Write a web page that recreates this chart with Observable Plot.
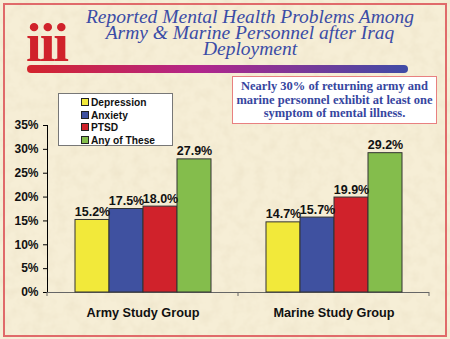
<!DOCTYPE html>
<html>
<head>
<meta charset="utf-8">
<script src="https://cdn.jsdelivr.net/npm/d3@7"></script>
<script src="https://cdn.jsdelivr.net/npm/@observablehq/plot@0.6"></script>
<style>
  html, body { margin: 0; padding: 0; }
  #page { position: relative; width: 450px; height: 339px; background-color: #f6eed6; overflow: hidden; font-family: "Liberation Sans", Arial, sans-serif; }
  #border { position: absolute; left: 3px; top: 3px; width: 440px; height: 330px; border: 2px solid #e06a6a; }
  #logo { position: absolute; left: 26px; top: 18px; font-family: "Liberation Serif", serif; font-weight: bold; font-size: 54px; color: #d0222b; letter-spacing: -2px; line-height: 50px; transform: scaleX(1.05); transform-origin: left top; }
  #title { position: absolute; left: 60px; top: 9px; width: 380px; text-align: center; font-family: "Liberation Serif", serif; font-style: italic; font-size: 19.5px; line-height: 16px; color: #3b4ca6; }
  #bar { position: absolute; left: 27px; top: 65px; width: 381px; height: 8px; border-radius: 4px; background: linear-gradient(to right, #d4242c, #b2268c 45%, #3f4ba6); }
  #callout { position: absolute; left: 232px; top: 76px; width: 203px; height: 43px; background: #fff; border: 1.5px solid #e88080; text-align: center; font-family: "Liberation Serif", serif; font-weight: bold; font-size: 12.5px; line-height: 13.5px; color: #3646a0; padding-top: 3px; box-sizing: content-box; }
  #legend { position: absolute; left: 58px; top: 93px; width: 113px; height: 51px; background: #fff; border: 1px solid #777; }
  .item { position: absolute; left: 22px; font-weight: bold; font-size: 10.2px; line-height: 12px; color: #111; white-space: nowrap; }
  .sw { display: inline-block; width: 6px; height: 6px; border: 1px solid #222; margin-right: 2px; vertical-align: 0px; }
  #chart { position: absolute; left: 0; top: 0; }
  #chart svg text { font-family: "Liberation Sans", Arial, sans-serif; font-weight: bold; fill: #111; }
</style>
</head>
<body>
<div id="page">
  <div id="border"></div>
  <div id="logo">iii</div>
  <div id="title"></div>
  <div id="bar"></div>
  <div id="chart"></div>
  <div id="callout"></div>
  <div id="legend"></div>
</div>
<script>
const titleLines = ["Reported Mental Health Problems Among", "Army & Marine Personnel after Iraq", "Deployment"];
const calloutLines = ["Nearly 30% of returning army and", "marine personnel exhibit at least one", "symptom of mental illness."];
const groups = ["Army Study Group", "Marine Study Group"];
const series = ["Depression", "Anxiety", "PTSD", "Any of These"];
const armyValues = [15.2, 17.5, 18.0, 27.9];
const marineValues = [14.7, 15.7, 19.9, 29.2];
const colors = ["#f2e93a", "#3f51a0", "#d0222b", "#84bd4c"];
const yTicks = [0, 5, 10, 15, 20, 25, 30, 35];

// parchment texture
const noise = `<svg xmlns='http://www.w3.org/2000/svg' width='450' height='339'><filter id='n'><feTurbulence type='fractalNoise' baseFrequency='0.09' numOctaves='3' seed='4'/><feColorMatrix values='0 0 0 0 0.82  0 0 0 0 0.74  0 0 0 0 0.55  0 0 0 0.9 -0.35'/></filter><rect width='100%' height='100%' filter='url(%23n)'/></svg>`;
document.getElementById("page").style.backgroundImage = `url("data:image/svg+xml;utf8,${noise.replace(/</g, "%3C").replace(/>/g, "%3E")}")`;

document.getElementById("title").innerHTML = titleLines.join("<br>");
document.getElementById("callout").innerHTML = calloutLines.join("<br>");
const legend = document.getElementById("legend");
series.forEach((s, i) => {
  const el = document.createElement("div");
  el.className = "item";
  el.style.top = (3 + i * 12.6) + "px";
  el.innerHTML = `<span class="sw" style="background:${colors[i]}"></span>${s}`;
  legend.appendChild(el);
});

const table = [];
groups.forEach((g, gi) => {
  const vals = gi === 0 ? armyValues : marineValues;
  series.forEach((s, si) => table.push({group: g, series: s, value: vals[si]}));
});

const plot = Plot.plot({
  width: 450,
  height: 339,
  marginLeft: 47,
  marginRight: 21,
  marginTop: 125,
  marginBottom: 47,
  style: {background: "transparent", fontSize: "12px", overflow: "visible"},
  fx: {domain: groups, padding: 0, axis: "bottom", label: null, tickSize: 0, tickPadding: 15},
  x: {domain: series, axis: null, paddingInner: 0, paddingOuter: 0.75},
  y: {domain: [0, 35], ticks: yTicks, tickFormat: d => d + "%", tickSize: 4, tickPadding: 5, line: true, label: null},
  color: {domain: series, range: colors},
  marks: [
    Plot.ruleY([0], {stroke: "#666"}),
    Plot.barY(table, {fx: "group", x: "series", y: "value", fill: "series", stroke: "#333", strokeWidth: 1}),
    Plot.text(table, {fx: "group", x: "series", y: "value", text: d => d.value.toFixed(1) + "%", lineAnchor: "bottom", dy: -4, fontSize: 12.5, fontWeight: "bold", fill: "#111"})
  ]
});
document.getElementById("chart").appendChild(plot);

d3.select(plot).selectAll('[aria-label="fx-axis tick label"] text').attr("font-size", 12.7);
d3.select(plot).selectAll('[aria-label="y-axis tick label"] text').attr("font-size", 12);
d3.select(plot).selectAll('[aria-label="y-axis tick"], [aria-label="y-axis line"], [aria-label="frame"]').attr("stroke", "#666");

// boundary ticks on category axis
const fx = plot.scale("fx");
const y0 = plot.scale("y").apply(0);
const bounds = groups.map(g => fx.apply(g));
bounds.push(fx.apply(groups[groups.length - 1]) + fx.bandwidth);
d3.select(plot).append("g").attr("stroke", "#666")
  .selectAll("line").data(bounds).join("line")
  .attr("x1", d => d).attr("x2", d => d).attr("y1", y0).attr("y2", y0 + 4);
</script>
</body>
</html>
